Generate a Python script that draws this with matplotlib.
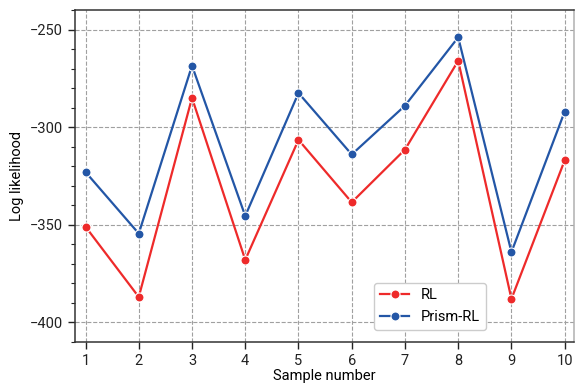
import matplotlib.pyplot as plt
from matplotlib.ticker import MultipleLocator

plt.rcParams['font.family'] = ['Roboto', 'DejaVu Sans']

samples = [1, 2, 3, 4, 5, 6, 7, 8, 9, 10]
rl = [-351, -387, -285, -368, -306.5, -338.5, -311.5, -266, -388, -317]
prism_rl = [-323, -354.5, -268.5, -345.5, -282.5, -314, -289, -254, -364, -292]

fig = plt.figure(figsize=(5.76, 3.85), dpi=100)
ax = fig.add_axes([0.130, 0.112, 0.867, 0.862])

ax.plot(samples, rl, '-o', color='#ee2a2a', lw=1.6, ms=6.5,
        markeredgecolor='white', markeredgewidth=0.8, label='RL', zorder=3)
ax.plot(samples, prism_rl, '-o', color='#2356a6', lw=1.6, ms=6.5,
        markeredgecolor='white', markeredgewidth=0.8, label='Prism-RL', zorder=3)

ax.set_xlim(0.8, 10.18)
ax.set_ylim(-410, -240)
ax.set_xticks(samples)
ax.yaxis.set_major_locator(MultipleLocator(50))
ax.yaxis.set_minor_locator(MultipleLocator(10))
ax.tick_params(axis='both', which='major', labelsize=10.5, length=5, width=1, colors='#222222')
ax.tick_params(axis='y', which='minor', length=3, width=0.8, colors='#222222')

ax.grid(True, color='#a0a0a0', linestyle='--', linewidth=0.8)
for s in ax.spines.values():
    s.set_color('#333333')
    s.set_linewidth(1.1)
ax.spines['right'].set_color('#b0b0b0')

ax.set_xlabel('Sample number', fontsize=10.5, labelpad=1)
ax.set_ylabel('Log likelihood', fontsize=10.5)

ax.legend(loc='lower left', bbox_to_anchor=(0.585, 0.015), fontsize=10.5, framealpha=1,
          edgecolor='#cccccc', handlelength=2.0)

fig.savefig('out.png', dpi=100)
